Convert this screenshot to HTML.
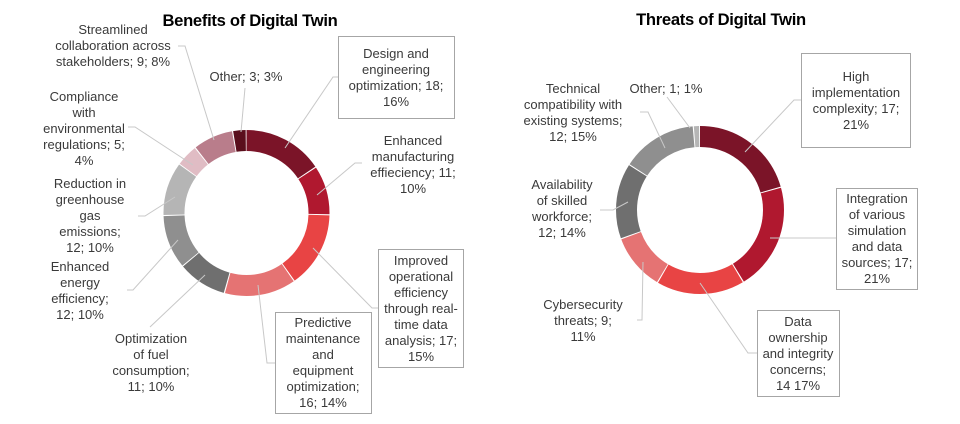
<!DOCTYPE html>
<html><head><meta charset="utf-8"><style>
html,body{margin:0;padding:0;background:#fff;}
svg{display:block;}
text{font-family:"Liberation Sans",Arial,sans-serif;font-size:13px;fill:#3a3a3a;text-anchor:middle;}
.t{font-size:16.6px;font-weight:bold;fill:#000;letter-spacing:-0.3px;}
.l{stroke:#c8c8c8;stroke-width:1;fill:none;}
.b{stroke:#a6a6a6;stroke-width:1;fill:#fff;}
</style></head><body>
<svg width="960" height="424" viewBox="0 0 960 424">
<rect width="960" height="424" fill="#fff"/>
<text class="t" x="250" y="26">Benefits of Digital Twin</text>
<text class="t" x="721" y="25">Threats of Digital Twin</text>

<g transform="translate(246.5,213) rotate(-90)" fill="none" stroke-width="21">
<circle r="72.5" stroke="#7b1428" stroke-dasharray="70.9 500" stroke-dashoffset="0"/>
<circle r="72.5" stroke="#b0182f" stroke-dasharray="43 500" stroke-dashoffset="-71.9"/>
<circle r="72.5" stroke="#e84444" stroke-dasharray="66.9 500" stroke-dashoffset="-115.9"/>
<circle r="72.5" stroke="#e57373" stroke-dasharray="62.9 500" stroke-dashoffset="-183.8"/>
<circle r="72.5" stroke="#6f6f6f" stroke-dasharray="43 500" stroke-dashoffset="-247.8"/>
<circle r="72.5" stroke="#8f8f8f" stroke-dasharray="47 500" stroke-dashoffset="-291.7"/>
<circle r="72.5" stroke="#b5b5b5" stroke-dasharray="47 500" stroke-dashoffset="-339.7"/>
<circle r="72.5" stroke="#e0bcc4" stroke-dasharray="19 500" stroke-dashoffset="-387.6"/>
<circle r="72.5" stroke="#b97d8b" stroke-dasharray="35 500" stroke-dashoffset="-407.6"/>
<circle r="72.5" stroke="#5a0e1c" stroke-dasharray="11 500" stroke-dashoffset="-443.6"/>
</g>
<g transform="translate(700,210) rotate(-90)" fill="none" stroke-width="21">
<circle r="73.5" stroke="#7b1428" stroke-dasharray="94.7 500" stroke-dashoffset="0"/>
<circle r="73.5" stroke="#b0182f" stroke-dasharray="94.7 500" stroke-dashoffset="-95.7"/>
<circle r="73.5" stroke="#e84444" stroke-dasharray="77.8 500" stroke-dashoffset="-191.5"/>
<circle r="73.5" stroke="#e57373" stroke-dasharray="49.7 500" stroke-dashoffset="-270.3"/>
<circle r="73.5" stroke="#6f6f6f" stroke-dasharray="66.6 500" stroke-dashoffset="-321"/>
<circle r="73.5" stroke="#8f8f8f" stroke-dasharray="66.6 500" stroke-dashoffset="-388.6"/>
<circle r="73.5" stroke="#b5b5b5" stroke-dasharray="4.6 500" stroke-dashoffset="-456.2"/>
</g>

<polyline class="l" points="338,77 333,77 285,148"/>
<polyline class="l" points="362,163 355,163 317,195"/>
<polyline class="l" points="378,308 372,308 313,248"/>
<polyline class="l" points="275,363 267,363 258,285"/>
<polyline class="l" points="150,327 205,275"/>
<polyline class="l" points="127,290 133,290 178,240"/>
<polyline class="l" points="138,216 145,216 175,197"/>
<polyline class="l" points="128,127 135,127 193,165"/>
<polyline class="l" points="178,46 185,46 214,140"/>
<polyline class="l" points="245,88 241,132"/>
<polyline class="l" points="801,100 794,100 745,152"/>
<polyline class="l" points="836,238 770,238"/>
<polyline class="l" points="757,353 748,353 700,283"/>
<polyline class="l" points="637,320 642,320 643,262"/>
<polyline class="l" points="600,210 613,210 628,202"/>
<polyline class="l" points="640,112 648,112 665,148"/>
<polyline class="l" points="667,97 690,128"/>

<rect class="b" x="338.5" y="36.5" width="116" height="82"/>
<rect class="b" x="378.5" y="249.5" width="85" height="118"/>
<rect class="b" x="275.5" y="312.5" width="96" height="101"/>
<rect class="b" x="801.5" y="53.5" width="109" height="94"/>
<rect class="b" x="836.5" y="188.5" width="81" height="101"/>
<rect class="b" x="757.5" y="310.5" width="82" height="86"/>

<text x="113" y="34">Streamlined<tspan x="113" dy="16">collaboration across</tspan><tspan x="113" dy="16">stakeholders; 9; 8%</tspan></text>
<text x="246" y="81">Other; 3; 3%</text>
<text x="84" y="101">Compliance<tspan x="84" dy="16">with</tspan><tspan x="84" dy="16">environmental</tspan><tspan x="84" dy="16">regulations; 5;</tspan><tspan x="84" dy="16">4%</tspan></text>
<text x="90" y="188">Reduction in<tspan x="90" dy="16">greenhouse</tspan><tspan x="90" dy="16">gas</tspan><tspan x="90" dy="16">emissions;</tspan><tspan x="90" dy="16">12; 10%</tspan></text>
<text x="80" y="271">Enhanced<tspan x="80" dy="16">energy</tspan><tspan x="80" dy="16">efficiency;</tspan><tspan x="80" dy="16">12; 10%</tspan></text>
<text x="151" y="343">Optimization<tspan x="151" dy="16">of fuel</tspan><tspan x="151" dy="16">consumption;</tspan><tspan x="151" dy="16">11; 10%</tspan></text>
<text x="396" y="58">Design and<tspan x="396" dy="16">engineering</tspan><tspan x="396" dy="16">optimization; 18;</tspan><tspan x="396" dy="16">16%</tspan></text>
<text x="413" y="145">Enhanced<tspan x="413" dy="16">manufacturing</tspan><tspan x="413" dy="16">effieciency; 11;</tspan><tspan x="413" dy="16">10%</tspan></text>
<text x="421" y="265">Improved<tspan x="421" dy="16">operational</tspan><tspan x="421" dy="16">efficiency</tspan><tspan x="421" dy="16">through real-</tspan><tspan x="421" dy="16">time data</tspan><tspan x="421" dy="16">analysis; 17;</tspan><tspan x="421" dy="16">15%</tspan></text>
<text x="323" y="327">Predictive<tspan x="323" dy="16">maintenance</tspan><tspan x="323" dy="16">and</tspan><tspan x="323" dy="16">equipment</tspan><tspan x="323" dy="16">optimization;</tspan><tspan x="323" dy="16">16; 14%</tspan></text>

<text x="573" y="93">Technical<tspan x="573" dy="16">compatibility with</tspan><tspan x="573" dy="16">existing systems;</tspan><tspan x="573" dy="16">12; 15%</tspan></text>
<text x="666" y="93">Other; 1; 1%</text>
<text x="562" y="189">Availability<tspan x="562" dy="16">of skilled</tspan><tspan x="562" dy="16">workforce;</tspan><tspan x="562" dy="16">12; 14%</tspan></text>
<text x="583" y="309">Cybersecurity<tspan x="583" dy="16">threats; 9;</tspan><tspan x="583" dy="16">11%</tspan></text>
<text x="856" y="81">High<tspan x="856" dy="16">implementation</tspan><tspan x="856" dy="16">complexity; 17;</tspan><tspan x="856" dy="16">21%</tspan></text>
<text x="877" y="203">Integration<tspan x="877" dy="16">of various</tspan><tspan x="877" dy="16">simulation</tspan><tspan x="877" dy="16">and data</tspan><tspan x="877" dy="16">sources; 17;</tspan><tspan x="877" dy="16">21%</tspan></text>
<text x="798" y="326">Data<tspan x="798" dy="16">ownership</tspan><tspan x="798" dy="16">and integrity</tspan><tspan x="798" dy="16">concerns;</tspan><tspan x="798" dy="16">14  17%</tspan></text>
</svg>
</body></html>
